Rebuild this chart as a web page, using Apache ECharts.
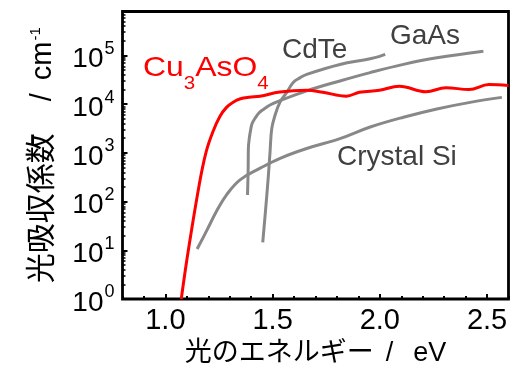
<!DOCTYPE html>
<html><head><meta charset="utf-8">
<script src="https://cdn.jsdelivr.net/npm/echarts@6/dist/echarts.min.js"></script>
<style>html,body{margin:0;padding:0;background:#fff}#c{width:512px;height:372px}</style>
</head><body><div id="c"></div>
<script>
// tick labels
const xTickValues = [1.0, 1.5, 2.0, 2.5];
const yTickValues = [1, 10, 100, 1000, 10000, 100000];
// photon energy (eV) and absorption coefficient (cm^-1)
const cu3aso4E     = [1.074, 1.107, 1.158, 1.19, 1.222, 1.254, 1.285, 1.316, 1.35, 1.39, 1.441, 1.534, 1.658, 1.734, 1.844, 1.905, 1.998, 2.091, 2.215, 2.308, 2.416, 2.509, 2.6];
const cu3aso4Alpha = [1, 10, 225, 1050, 2750, 5600, 8600, 11000, 12900, 13900, 14600, 17800, 19300, 17600, 14600, 17600, 19300, 23300, 18000, 21800, 20000, 25300, 24300];
const gaasE     = [1.383, 1.386, 1.387, 1.391, 1.397, 1.404, 1.418, 1.436, 1.460, 1.488, 1.534, 1.659, 1.814, 1.955, 2.110, 2.266, 2.483];
const gaasAlpha = [137, 480, 1230, 1960, 2870, 3980, 5130, 6610, 7980, 9630, 11800, 18800, 30000, 44500, 65600, 89500, 122000];
const cdteE     = [1.454, 1.472, 1.481, 1.488, 1.496, 1.511, 1.534, 1.566, 1.596, 1.627, 1.659, 1.814, 1.955, 2.025];
const cdteAlpha = [14.5, 120, 380, 1050, 3150, 5850, 10900, 17500, 28000, 34700, 41000, 65500, 85500, 105000];
const siE     = [1.148, 1.192, 1.239, 1.286, 1.348, 1.442, 1.535, 1.659, 1.814, 1.955, 2.110, 2.266, 2.421, 2.569];
const siAlpha = [10.6, 25, 64, 139, 280, 485, 775, 1230, 1960, 3400, 5400, 7980, 10900, 13800];

const yMinorTicks = [];
for (let n = 0; n <= 5; n++) for (let k = 2; k <= 9; k++) { const v = k * Math.pow(10, n); if (v < 8e5) yMinorTicks.push(v); }

const LAT = "'Liberation Sans', Arial, 'Noto Sans CJK JP', sans-serif";
const pair = (xs, ys) => xs.map((x, i) => [x, ys[i]]);
const gray = '#888888';

const chart = echarts.init(document.getElementById('c'), null, {renderer: 'canvas'});
chart.setOption({
  animation: false,
  grid: {left: 122.5, right: 3.5, top: 11.5, bottom: 70, show: true, borderColor: '#000', borderWidth: 2.8, containLabel: false},
  xAxis: [{
    type: 'value', min: 0.8, max: 2.6, position: 'bottom',
    axisLine: {show: false},
    axisTick: {show: true, inside: true, length: 5, lineStyle: {color: '#000', width: 2}, customValues: xTickValues},
    axisLabel: {customValues: xTickValues, formatter: v => v.toFixed(1), fontSize: 29, fontFamily: LAT, color: '#000', margin: 7},
    splitLine: {show: false},
    name: '{a|光のエネルギー}{b|/}{a|eV}', nameLocation: 'middle', nameGap: 41,
    nameTextStyle: {color: '#000', fontFamily: LAT, fontSize: 27, rich: {
      a: {fontSize: 27, fontFamily: LAT, color: '#000'},
      b: {fontSize: 27, fontFamily: LAT, color: '#000', padding: [0, 20, 0, 12]}
    }}
  }, {
    type: 'value', min: 0.8, max: 2.6, interval: 0.1, position: 'bottom',
    axisLine: {show: false}, axisLabel: {show: false}, splitLine: {show: false},
    axisTick: {show: true, inside: true, length: 3, lineStyle: {color: '#000', width: 2}}
  }],
  yAxis: [{
    type: 'log', logBase: 10, min: 1, max: 8e5, position: 'left',
    axisLine: {show: false},
    axisTick: {show: true, inside: true, length: 5, lineStyle: {color: '#000', width: 2}, customValues: yTickValues},
    axisLabel: {customValues: yTickValues, margin: 8,
      formatter: v => '{b|10}{s|' + Math.round(Math.log10(v)) + '}',
      rich: {
        b: {fontSize: 28, fontFamily: LAT, color: '#000', lineHeight: 28, padding: [8, 0, 0, 0]},
        s: {fontSize: 18, fontFamily: LAT, color: '#000', lineHeight: 18, padding: [0, 0, 13, 1]}
      }},
    splitLine: {show: false},
    name: '{a|光吸収係数}{b|/}{c|cm}{s|-1}', nameLocation: 'middle', nameGap: 65, nameRotate: 90,
    nameTextStyle: {color: '#000', fontFamily: LAT, fontSize: 29, rich: {
      a: {fontSize: 30, fontFamily: LAT, color: '#000'},
      c: {fontSize: 29, fontFamily: LAT, color: '#000'},
      b: {fontSize: 29, fontFamily: LAT, color: '#000', padding: [0, 13, 0, 32]},
      s: {fontSize: 15, fontFamily: LAT, color: '#000', padding: [0, 0, 13, 1]}
    }}
  }, {
    type: 'log', logBase: 10, min: 1, max: 8e5, position: 'left',
    axisLine: {show: false}, axisLabel: {show: false}, splitLine: {show: false},
    axisTick: {show: true, inside: true, length: 3, lineStyle: {color: '#000', width: 1.5}, customValues: yMinorTicks}
  }],
  series: [
    {name: 'Crystal Si', type: 'line', data: pair(siE, siAlpha), smooth: 0.4, showSymbol: false, lineStyle: {color: gray, width: 3}, xAxisIndex: 0, yAxisIndex: 0},
    {name: 'GaAs', type: 'line', data: pair(gaasE, gaasAlpha), smooth: 0.4, showSymbol: false, lineStyle: {color: gray, width: 3}, xAxisIndex: 0, yAxisIndex: 0},
    {name: 'CdTe', type: 'line', data: pair(cdteE, cdteAlpha), smooth: 0.4, showSymbol: false, lineStyle: {color: gray, width: 3}, xAxisIndex: 0, yAxisIndex: 0},
    {name: 'Cu3AsO4', type: 'line', data: pair(cu3aso4E, cu3aso4Alpha), smooth: 0.4, showSymbol: false, lineStyle: {color: '#ff0000', width: 3}, xAxisIndex: 0, yAxisIndex: 0}
  ],
  graphic: [
    {type: 'text', x: 143, y: 68, scaleX: 1.14, z: 100, style: {text: '{a|Cu}{s|3}{a|AsO}{s|4}', fill: '#ff0000', align: 'left', verticalAlign: 'middle',
      rich: {a: {fontSize: 28, fontFamily: LAT, fill: '#ff0000', color: '#ff0000'}, s: {fontSize: 18, fontFamily: LAT, fill: '#ff0000', color: '#ff0000', padding: [32, 0, 0, 0]}}}},
    {type: 'text', x: 282, y: 50, z: 100, style: {text: 'CdTe', fill: '#404040', fontSize: 28, fontFamily: LAT, align: 'left', verticalAlign: 'middle'}},
    {type: 'text', x: 390, y: 36, z: 100, style: {text: 'GaAs', fill: '#404040', fontSize: 28, fontFamily: LAT, align: 'left', verticalAlign: 'middle'}},
    {type: 'text', x: 337, y: 157, z: 100, style: {text: 'Crystal Si', fill: '#404040', fontSize: 28, fontFamily: LAT, align: 'left', verticalAlign: 'middle'}}
  ]
});
</script></body></html>
